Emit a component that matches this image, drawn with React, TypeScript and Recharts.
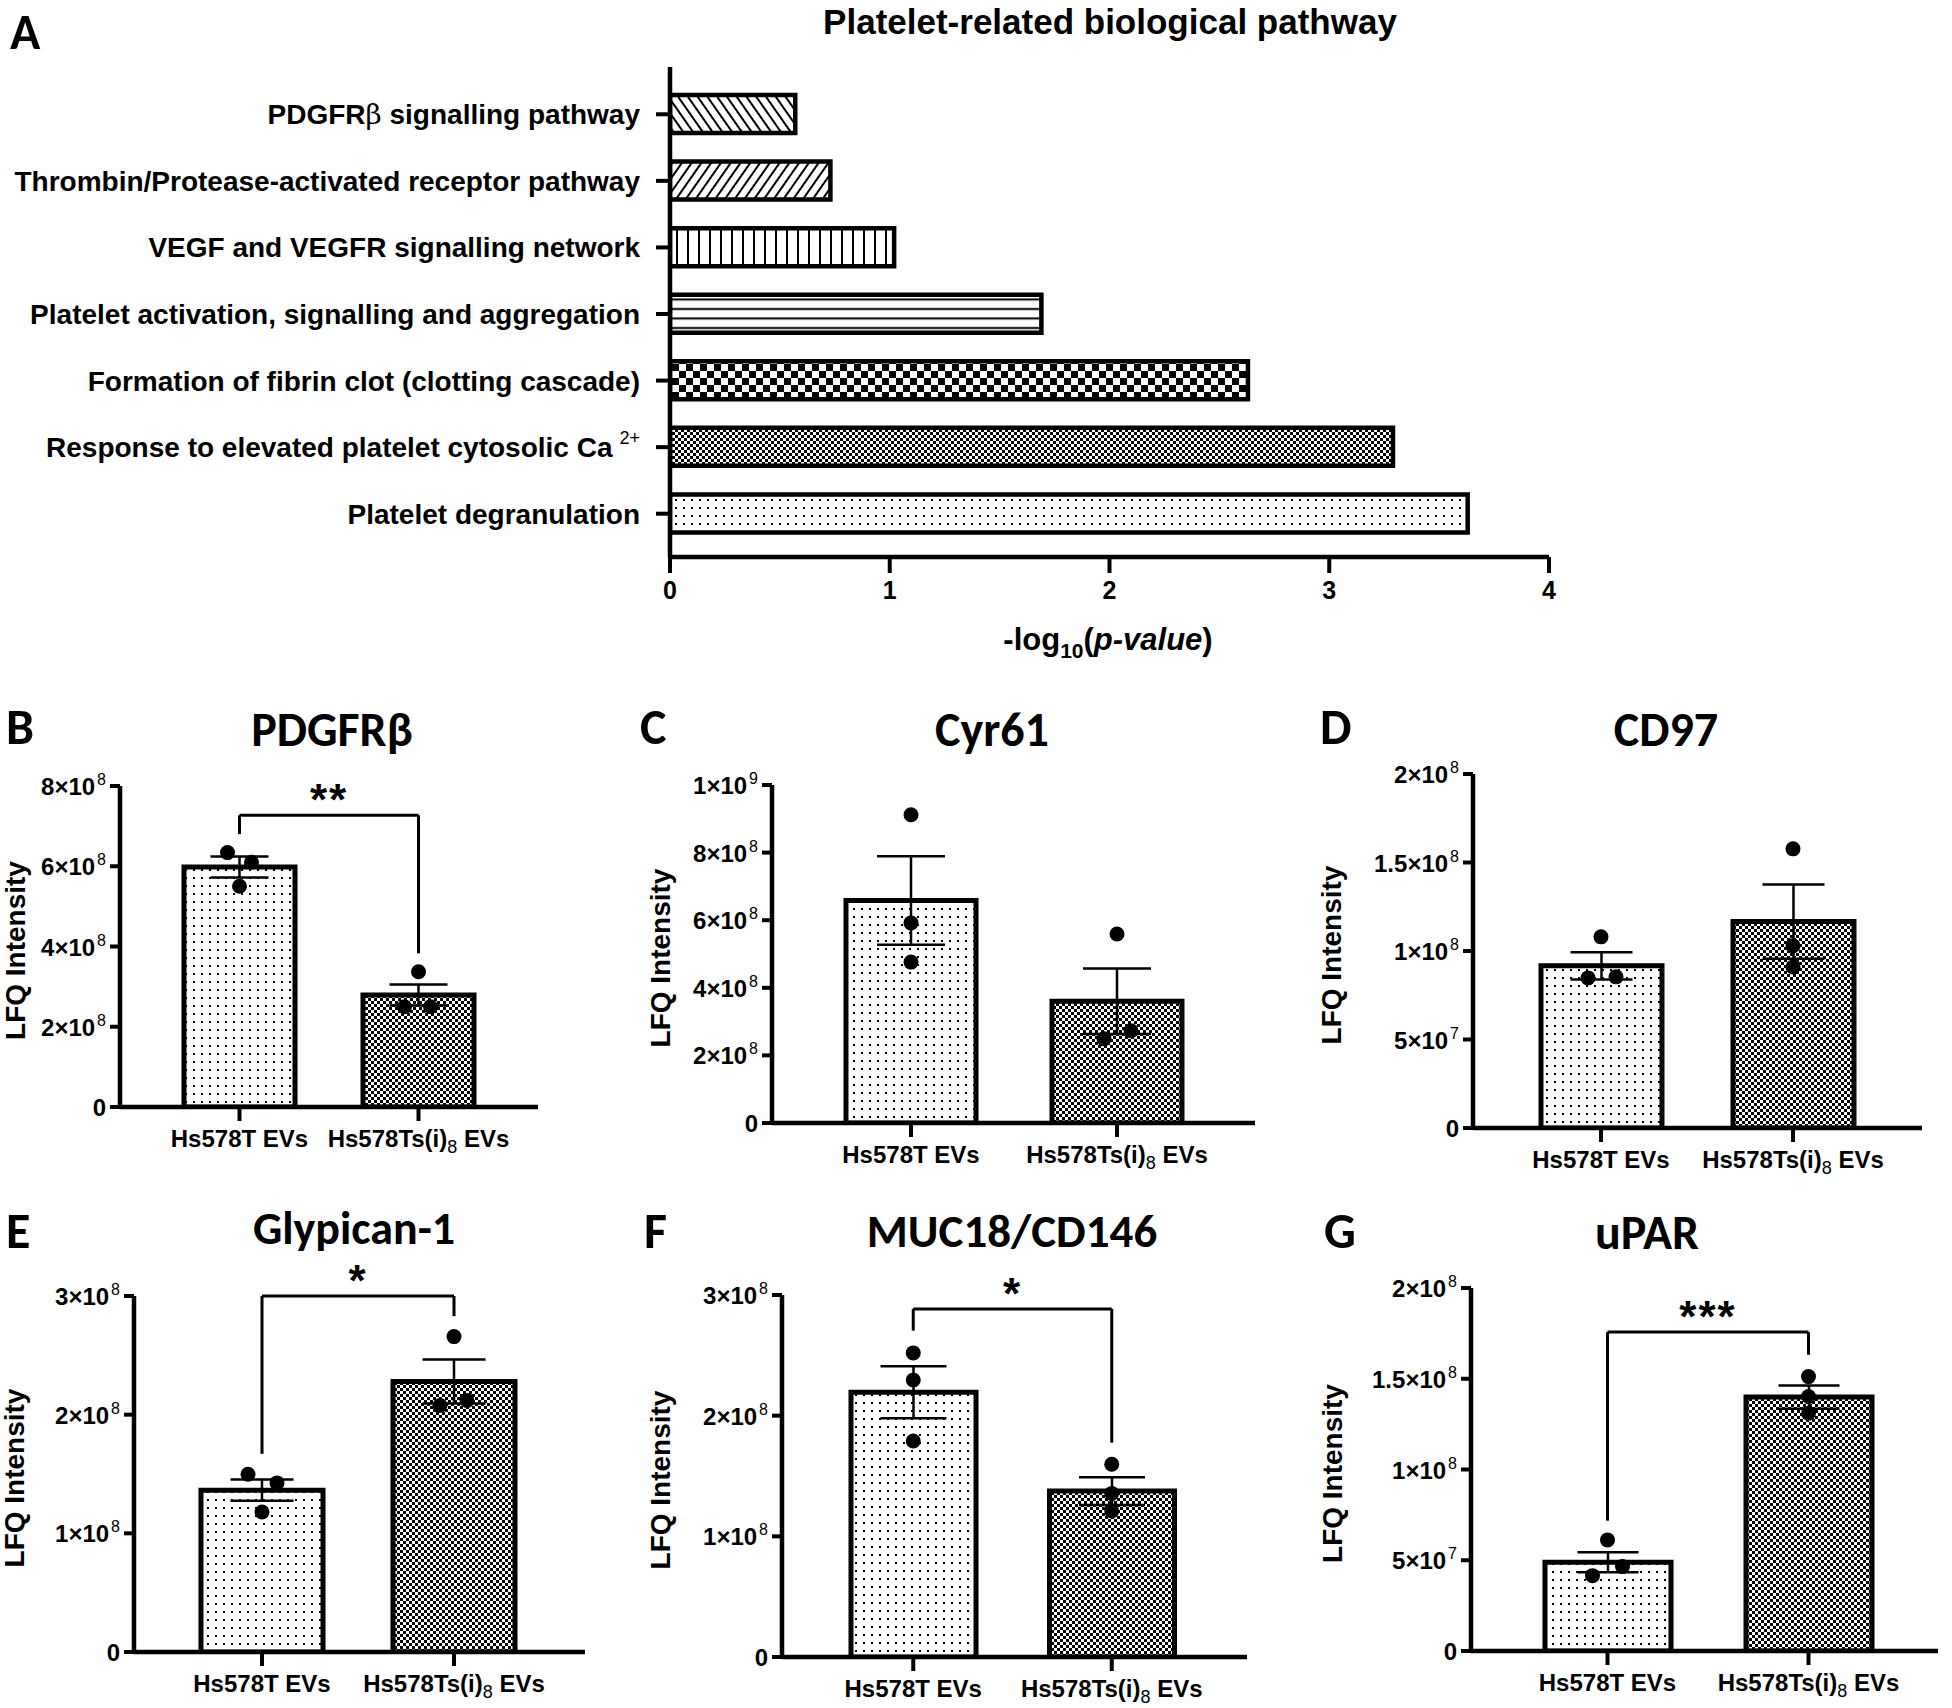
import React from 'react';
import {
  BarChart,
  ComposedChart,
  Bar,
  XAxis,
  YAxis,
  Cell,
  Scatter,
  ErrorBar,
  ReferenceLine,
} from 'recharts';

const ARIAL = '"Liberation Sans", Arial, Helvetica, sans-serif';
const CALIBRI = 'Carlito, Lato, "Open Sans", sans-serif';

// ---------------- Panel A data ----------------
const pathwayNames = [
  'PDGFRβ signalling pathway',
  'Thrombin/Protease-activated receptor pathway',
  'VEGF and VEGFR signalling network',
  'Platelet activation, signalling and aggregation',
  'Formation of fibrin clot (clotting cascade)',
  'Response to elevated platelet cytosolic Ca2+',
  'Platelet degranulation',
];
const pathwayLogP = [0.57, 0.73, 1.02, 1.69, 2.63, 3.29, 3.63];
const pathwayAxisTicks = [0, 1, 2, 3, 4];
const pathwayPatterns = ['pDiagBack', 'pDiagFwd', 'pVLines', 'pHLines', 'pBigCheck', 'pFineCheck', 'pDots'];

// ---------------- Panels B–G data ----------------
const groupNames = ['Hs578T EVs', 'Hs578Ts(i)8 EVs'];
const groupPatterns = ['pDots', 'pFineCheck'];

const pdgfrbMeans = [5.98e8, 2.79e8];
const pdgfrbSems = [0.26e8, 0.26e8];
const pdgfrbPoints = [[6.34e8, 6.10e8, 5.50e8], [3.37e8, 2.50e8, 2.50e8]];
const pdgfrbTicks = [0, 2e8, 4e8, 6e8, 8e8];
const pdgfrbSig = { text: '**', top: 7.27e8, leftEnd: 6.8e8, rightEnd: 3.83e8 };

const cyr61Means = [6.58e8, 3.6e8];
const cyr61Sems = [1.31e8, 0.97e8];
const cyr61Points = [[9.12e8, 5.92e8, 4.76e8], [5.59e8, 2.49e8, 2.73e8]];
const cyr61Ticks = [0, 2e8, 4e8, 6e8, 8e8, 1e9];

const cd97Means = [9.16e7, 1.166e8];
const cd97Sems = [0.77e7, 2.1e7];
const cd97Points = [[1.08e8, 8.48e7, 8.54e7], [1.577e8, 1.03e8, 0.91e8]];
const cd97Ticks = [0, 5e7, 1e8, 1.5e8, 2e8];

const glypicanMeans = [1.364e8, 2.28e8];
const glypicanSems = [0.09e8, 0.185e8];
const glypicanPoints = [[1.498e8, 1.425e8, 1.18e8], [2.658e8, 2.078e8, 2.12e8]];
const glypicanTicks = [0, 1e8, 2e8, 3e8];
const glypicanSig = { text: '*', top: 3.0e8, leftEnd: 1.67e8, rightEnd: 2.83e8 };

const mucMeans = [2.194e8, 1.375e8];
const mucSems = [0.215e8, 0.115e8];
const mucPoints = [[2.52e8, 2.296e8, 1.79e8], [1.597e8, 1.356e8, 1.21e8]];
const mucTicks = [0, 1e8, 2e8, 3e8];
const mucSig = { text: '*', top: 2.885e8, leftEnd: 2.705e8, rightEnd: 1.776e8 };

const uparMeans = [4.89e7, 1.399e8];
const uparSems = [0.55e7, 0.064e8];
const uparPoints = [[6.12e7, 4.15e7, 4.65e7], [1.512e8, 1.402e8, 1.31e8]];
const uparTicks = [0, 5e7, 1e8, 1.5e8, 2e8];
const uparSig = { text: '***', top: 1.757e8, leftEnd: 0.718e8, rightEnd: 1.632e8 };

// ---------------- styles / layout (pixels) ----------------
const panels = [
  {
    letter: 'B', title: 'PDGFRβ', means: pdgfrbMeans, sems: pdgfrbSems, points: pdgfrbPoints, ticks: pdgfrbTicks, sig: pdgfrbSig,
    lay: { plotL: 120, plotR: 538, plotT: 786, plotB: 1107, padL: 30, padR: 30, bar: 111, cap: 58, titleX: 332, titleY: 746, titleSize: 48, letterX: 6, letterY: 744, lfqX: 25 },
    jitter: [[-12, 12, 0], [0, -14, 12]],
  },
  {
    letter: 'C', title: 'Cyr61', means: cyr61Means, sems: cyr61Sems, points: cyr61Points, ticks: cyr61Ticks, sig: null,
    lay: { plotL: 772, plotR: 1255, plotT: 785, plotB: 1123, padL: 36, padR: 35, bar: 130, cap: 68, titleX: 992, titleY: 746, titleSize: 48, letterX: 640, letterY: 744, lfqX: 670 },
    jitter: [[0, 0, 0], [0, -13, 14]],
  },
  {
    letter: 'D', title: 'CD97', means: cd97Means, sems: cd97Sems, points: cd97Points, ticks: cd97Ticks, sig: null,
    lay: { plotL: 1473, plotR: 1922, plotT: 774, plotB: 1128, padL: 32, padR: 33, bar: 121, cap: 62, titleX: 1666, titleY: 746, titleSize: 48, letterX: 1320, letterY: 744, lfqX: 1341 },
    jitter: [[0, -13, 15], [0, 0, 0]],
  },
  {
    letter: 'E', title: 'Glypican-1', means: glypicanMeans, sems: glypicanSems, points: glypicanPoints, ticks: glypicanTicks, sig: glypicanSig,
    lay: { plotL: 134, plotR: 585, plotT: 1296, plotB: 1652, padL: 32, padR: 35, bar: 122, cap: 63, titleX: 354, titleY: 1244, titleSize: 46, letterX: 6, letterY: 1248, lfqX: 24 },
    jitter: [[-14, 15, 0], [0, -14, 13]],
  },
  {
    letter: 'F', title: 'MUC18/CD146', means: mucMeans, sems: mucSems, points: mucPoints, ticks: mucTicks, sig: mucSig,
    lay: { plotL: 782, plotR: 1247, plotT: 1295, plotB: 1657, padL: 32, padR: 36, bar: 125, cap: 66, titleX: 1012, titleY: 1247, titleSize: 47, letterX: 644, letterY: 1248, lfqX: 670 },
    jitter: [[0, 0, 0], [0, 0, 0]],
  },
  {
    letter: 'G', title: 'uPAR', means: uparMeans, sems: uparSems, points: uparPoints, ticks: uparTicks, sig: uparSig,
    lay: { plotL: 1471, plotR: 1938, plotT: 1288, plotB: 1651, padL: 36, padR: 29, bar: 126, cap: 61, titleX: 1647, titleY: 1249, titleSize: 48, letterX: 1324, letterY: 1248, lfqX: 1342 },
    jitter: [[0, -15, 15], [0, 0, 0]],
  },
];

function sciParts(v: number) {
  if (v === 0) return null;
  const exp = Math.floor(Math.log10(v) + 1e-9);
  const mant = Number((v / Math.pow(10, exp)).toFixed(1));
  return { mant: String(mant), exp: String(exp) };
}

function Patterns() {
  return (
    <svg width={0} height={0} style={{ position: 'absolute' }}>
      <defs>
        <pattern id="pDots" patternUnits="userSpaceOnUse" width={8} height={8}>
          <rect width={8} height={8} fill="#fff" />
          <rect x={3} y={3} width={2} height={2} fill="#000" />
        </pattern>
        <pattern id="pFineCheck" patternUnits="userSpaceOnUse" width={6} height={6}>
          <rect width={6} height={6} fill="#fff" />
          <rect width={3} height={3} fill="#000" />
          <rect x={3} y={3} width={3} height={3} fill="#000" />
        </pattern>
        <pattern id="pBigCheck" patternUnits="userSpaceOnUse" width={14} height={14}>
          <rect width={14} height={14} fill="#fff" />
          <rect width={7} height={7} fill="#000" />
          <rect x={7} y={7} width={7} height={7} fill="#000" />
        </pattern>
        <pattern id="pHLines" patternUnits="userSpaceOnUse" width={10} height={9.5}>
          <rect width={10} height={9.5} fill="#fff" />
          <rect y={4} width={10} height={2} fill="#000" />
        </pattern>
        <pattern id="pVLines" patternUnits="userSpaceOnUse" width={11} height={10}>
          <rect width={11} height={10} fill="#fff" />
          <rect x={5} width={2} height={10} fill="#000" />
        </pattern>
        <pattern id="pDiagFwd" patternUnits="userSpaceOnUse" width={8} height={8} patternTransform="rotate(35)">
          <rect width={8} height={8} fill="#fff" />
          <rect x={3} width={2} height={8} fill="#000" />
        </pattern>
        <pattern id="pDiagBack" patternUnits="userSpaceOnUse" width={8} height={8} patternTransform="rotate(-35)">
          <rect width={8} height={8} fill="#fff" />
          <rect x={3} width={2} height={8} fill="#000" />
        </pattern>
      </defs>
    </svg>
  );
}

// ---------------- Panel A ----------------
function PanelA() {
  const data = pathwayNames.map((name, i) => ({ name, value: pathwayLogP[i] }));
  const plotL = 670, plotR = 1549, plotT = 67, plotB = 557;
  const W = 1600, H = 690, XH = 90;
  const pathTick = (p: any) => {
    const v: string = p.payload.value;
    const common = { fontFamily: ARIAL, fontWeight: 700, fontSize: 28, fill: '#000' };
    if (v.endsWith('Ca2+')) {
      return (
        <text x={p.x} y={p.y + 10} textAnchor="end" {...common}>
          {v.slice(0, -2)}
          <tspan dx={7} dy={-13} fontSize={18} fontWeight={400}>2+</tspan>
        </text>
      );
    }
    if (v.includes('β')) {
      const [a, b] = v.split('β');
      return (
        <text x={p.x} y={p.y + 10} textAnchor="end" {...common}>
          {a}
          <tspan fontFamily="'DejaVu Serif', serif" fontWeight={400}>β</tspan>
          {b}
        </text>
      );
    }
    return (
      <text x={p.x} y={p.y + 10} textAnchor="end" {...common}>
        {v}
      </text>
    );
  };
  const numTick = (p: any) => (
    <text x={p.x} y={p.y + 24} textAnchor="middle" fontFamily={ARIAL} fontWeight={700} fontSize={25} fill="#000">
      {p.payload.value}
    </text>
  );
  return (
    <div style={{ position: 'absolute', left: 0, top: 0 }}>
      <BarChart
        layout="vertical"
        width={W}
        height={H}
        data={data}
        margin={{ top: plotT, right: W - plotR, left: 0, bottom: H - plotB - XH }}
      >
        <XAxis
          type="number"
          domain={[0, 4]}
          ticks={pathwayAxisTicks}
          allowDataOverflow
          height={XH}
          axisLine={{ stroke: '#000', strokeWidth: 4.5 }}
          tickLine={{ stroke: '#000', strokeWidth: 4 }}
          tickSize={16}
          tick={numTick}
          interval={0}
        />
        <YAxis
          type="category"
          dataKey="name"
          width={plotL}
          padding={{ top: 14, bottom: 10 }}
          axisLine={{ stroke: '#000', strokeWidth: 4.5 }}
          tickLine={{ stroke: '#000', strokeWidth: 4 }}
          tickSize={14}
          tickMargin={16}
          tick={pathTick}
          interval={0}
        />
        <Bar dataKey="value" barSize={38} stroke="#000" strokeWidth={4.5} isAnimationActive={false}>
          {data.map((d, i) => (
            <Cell key={d.name} fill={`url(#${pathwayPatterns[i]})`} />
          ))}
        </Bar>
      </BarChart>
    </div>
  );
}

// ---------------- Panels B–G ----------------
function ProteinPanel({ cfg }: { cfg: any }) {
  const { plotL, plotR, plotT, plotB, padL, padR, bar, cap } = cfg.lay;
  const YW = 130, MT = 40, XH = 90, MR = 10;
  const width = plotR - plotL + YW + MR;
  const height = plotB - plotT + MT + XH;
  const data = groupNames.map((g, i) => ({
    name: g,
    mean: cfg.means[i],
    sem: cfg.sems[i],
    p0: cfg.points[i][0],
    p1: cfg.points[i][1],
    p2: cfg.points[i][2],
  }));
  const maxTick = cfg.ticks[cfg.ticks.length - 1];

  const sciTick = (p: any) => {
    const parts = sciParts(p.payload.value);
    const common = { fontFamily: ARIAL, fontWeight: 700, fontSize: 24, fill: '#000' };
    if (!parts) {
      return (
        <text x={p.x} y={p.y + 9} textAnchor="end" {...common}>0</text>
      );
    }
    return (
      <text x={p.x} y={p.y + 9} textAnchor="end" {...common}>
        {parts.mant}×10
        <tspan dx={2} dy={-10} fontSize={16} fontWeight={400}>{parts.exp}</tspan>
      </text>
    );
  };
  const groupTick = (p: any) => {
    const v: string = p.payload.value;
    const common = { fontFamily: ARIAL, fontWeight: 700, fontSize: 24, fill: '#000' };
    if (v.startsWith('Hs578Ts')) {
      return (
        <text x={p.x} y={p.y + 24} textAnchor="middle" {...common}>
          Hs578Ts(i)
          <tspan dy={6} fontSize={18} fontWeight={400}>8</tspan>
          <tspan dy={-6}> EVs</tspan>
        </text>
      );
    }
    return (
      <text x={p.x} y={p.y + 24} textAnchor="middle" {...common}>{v}</text>
    );
  };
  const dotShape = (k: number) => (p: any) => {
    const ci = groupNames.indexOf(p.payload.name);
    const dx = cfg.jitter[ci] ? cfg.jitter[ci][k] : 0;
    return <circle cx={p.cx + dx} cy={p.cy} r={7.5} fill="#000" />;
  };
  const sig = cfg.sig;
  const lineStyle = { stroke: '#000', strokeWidth: 3 };

  return (
    <div style={{ position: 'absolute', left: plotL - YW, top: plotT - MT }}>
      <ComposedChart width={width} height={height} data={data} margin={{ top: MT, right: MR, left: 0, bottom: 0 }}>
        <XAxis
          dataKey="name"
          type="category"
          height={XH}
          padding={{ left: padL, right: padR }}
          axisLine={{ stroke: '#000', strokeWidth: 4.5 }}
          tickLine={{ stroke: '#000', strokeWidth: 4 }}
          tickSize={14}
          tick={groupTick}
          interval={0}
        />
        <YAxis
          type="number"
          domain={[0, maxTick]}
          ticks={cfg.ticks}
          allowDataOverflow
          width={YW}
          axisLine={{ stroke: '#000', strokeWidth: 4.5 }}
          tickLine={{ stroke: '#000', strokeWidth: 4 }}
          tickSize={10}
          tickMargin={4}
          tick={sciTick}
          interval={0}
        />
        <Bar dataKey="mean" barSize={bar} stroke="#000" strokeWidth={5} isAnimationActive={false}>
          {data.map((d, i) => (
            <Cell key={d.name} fill={`url(#${groupPatterns[i]})`} />
          ))}
          <ErrorBar dataKey="sem" width={cap / 2} stroke="#000" strokeWidth={2.5} direction="y" />
        </Bar>
        {[0, 1, 2].map((k) => (
          <Scatter key={k} dataKey={`p${k}`} fill="#000" isAnimationActive={false} shape={dotShape(k)} />
        ))}
        {sig && (
          <ReferenceLine
            ifOverflow="visible"
            segment={[{ x: groupNames[0], y: sig.top }, { x: groupNames[1], y: sig.top }]}
            {...lineStyle}
            label={{ value: sig.text, position: 'top', offset: 0, fontFamily: ARIAL, fontWeight: 700, fontSize: 44, letterSpacing: 2, fill: '#000' }}
          />
        )}
        {sig && (
          <ReferenceLine
            ifOverflow="visible"
            segment={[{ x: groupNames[0], y: sig.top }, { x: groupNames[0], y: sig.leftEnd }]}
            {...lineStyle}
          />
        )}
        {sig && (
          <ReferenceLine
            ifOverflow="visible"
            segment={[{ x: groupNames[1], y: sig.top }, { x: groupNames[1], y: sig.rightEnd }]}
            {...lineStyle}
          />
        )}
      </ComposedChart>
    </div>
  );
}

function Overlay() {
  return (
    <svg width={1952} height={1708} style={{ position: 'absolute', left: 0, top: 0, pointerEvents: 'none' }}>
      <text x={10} y={49} fontFamily={CALIBRI} fontWeight={900} fontSize={50} fill="#000">A</text>
      <text x={1110} y={34} textAnchor="middle" fontFamily={ARIAL} fontWeight={700} fontSize={35} fill="#000">
        Platelet-related biological pathway
      </text>
      <text x={1108} y={650} textAnchor="middle" fontFamily={ARIAL} fontWeight={700} fontSize={31} fill="#000">
        -log
        <tspan dy={8} fontSize={21}>10</tspan>
        <tspan dy={-8}>(</tspan>
        <tspan fontStyle="italic">p-value</tspan>
        <tspan>)</tspan>
      </text>
      {panels.map((p) => {
        const cy = (p.lay.plotT + p.lay.plotB) / 2 + 4;
        return (
          <g key={p.letter}>
            <text x={p.lay.letterX} y={p.lay.letterY} fontFamily={CALIBRI} fontWeight={900} fontSize={50} fill="#000">
              {p.letter}
            </text>
            <text x={p.lay.titleX} y={p.lay.titleY} textAnchor="middle" fontFamily={CALIBRI} fontWeight={700} fontSize={p.lay.titleSize} fill="#000">
              {p.title}
            </text>
            <text
              x={p.lay.lfqX}
              y={cy}
              textAnchor="middle"
              transform={`rotate(-90 ${p.lay.lfqX} ${cy})`}
              fontFamily={ARIAL}
              fontWeight={700}
              fontSize={28}
              fill="#000"
            >
              LFQ Intensity
            </text>
          </g>
        );
      })}
    </svg>
  );
}

export default function App() {
  return (
    <div style={{ position: 'absolute', left: 0, top: 0, width: 1952, height: 1708, background: '#fff', overflow: 'hidden' }}>
      <Patterns />
      <PanelA />
      {panels.map((p) => (
        <ProteinPanel key={p.letter} cfg={p} />
      ))}
      <Overlay />
    </div>
  );
}
